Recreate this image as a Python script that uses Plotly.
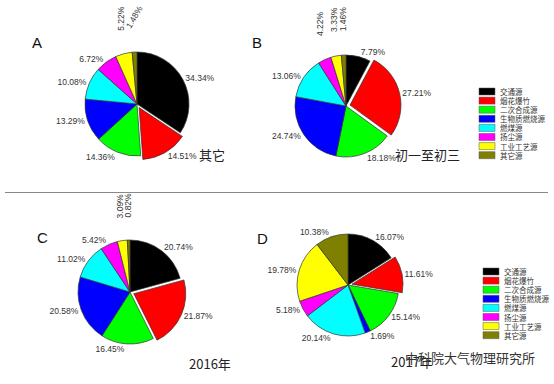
import math
import plotly.graph_objects as go

W, H = 554, 384

sources = ["交通源", "烟花爆竹", "二次合成源", "生物质燃烧源", "燃煤源", "扬尘源", "工业工艺源", "其它源"]
colors = ["#000000", "#FF0000", "#00FF00", "#0000FF", "#00FFFF", "#FF00FF", "#FFFF00", "#808000"]

vals_A = [34.34, 14.51, 14.36, 13.29, 10.08, 6.72, 5.22, 1.48]
vals_B = [7.79, 27.21, 18.18, 24.74, 13.06, 4.22, 3.33, 1.46]
vals_C = [20.74, 21.87, 16.45, 20.58, 11.02, 5.42, 3.09, 0.82]
vals_D = [16.07, 11.61, 15.14, 1.69, 20.14, 5.18, 19.78, 10.38]

panel_letters = ["A", "B", "C", "D"]
panel_titles = ["其它", "初一至初三", "2016年", "2017年"]

# style / layout (pixels)
centers = [(137, 104), (346, 106), (130, 292), (348, 285)]
radii = [52, 51, 52, 51]
pull = 0.08
rotated = [{6: -90, 7: -60}, {5: -90, 6: -90, 7: -90}, {6: -90, 7: -90}, {}]
letter_pos = [(37, 42), (257, 43), (42, 237), (262, 238)]
title_pos = [(212, 155), (427, 154), (210, 363), (412, 361)]
legend_pos = [(479, 88), (483, 268)]


def px(x):
    return x / W


def py(y):
    return 1 - y / H


def ann(x, y, text, size, family, color="#333333", angle=0, xanchor="center"):
    return dict(x=px(x), y=py(y), xref="paper", yref="paper", text=text, showarrow=False,
                xanchor=xanchor, yanchor="middle", textangle=angle,
                font=dict(family=family, size=size, color=color))


fig = go.Figure()
annotations = []
shapes = []
ARIAL = "Arial, Liberation Sans"
CJK = "Noto Sans CJK SC"

for k, vals in enumerate([vals_A, vals_B, vals_C, vals_D]):
    cx, cy = centers[k]
    r = radii[k]
    half = r * (1 + pull)
    texts = []
    total = sum(vals)
    cum = 0
    for i, v in enumerate(vals):
        lab = f"{v:.2f}%"
        if i in rotated[k]:
            texts.append("")
            # slice mid-angle measured from 12 o'clock, squeezed toward the top
            mid = (cum + v / 2) / total * 2 * math.pi - 2 * math.pi
            mid *= 0.7
            R = 87
            ax = cx + R * math.sin(mid)
            ay = cy - R * math.cos(mid)
            annotations.append(ann(ax, ay, lab, 8.5, ARIAL, angle=rotated[k][i]))
        else:
            texts.append(lab)
        cum += v
    fig.add_trace(go.Pie(
        labels=sources, values=vals, text=texts, textinfo="text",
        textposition="outside", sort=False, direction="clockwise", rotation=0,
        pull=[pull if i == 1 else 0 for i in range(len(vals))],
        marker=dict(colors=colors, line=dict(color="#333333", width=0.7)),
        outsidetextfont=dict(family=ARIAL, size=8.5, color="#333333"),
        domain=dict(x=[px(cx - half), px(cx + half)], y=[py(cy + half), py(cy - half)]),
        showlegend=False, hoverinfo="label+percent",
    ))
    lx, ly = letter_pos[k]
    annotations.append(ann(lx, ly, panel_letters[k], 15, ARIAL, "#111111"))
    tx, ty = title_pos[k]
    annotations.append(ann(tx, ty, panel_titles[k], 13, CJK, "#222222"))

# manual legends
for (lx0, ly0) in legend_pos:
    for i, (name, c) in enumerate(zip(sources, colors)):
        y0 = ly0 + i * 9.1
        shapes.append(dict(type="rect", xref="paper", yref="paper",
                           x0=px(lx0), x1=px(lx0 + 16), y0=py(y0 + 7), y1=py(y0),
                           fillcolor=c, line=dict(color="#555555", width=0.5)))
        annotations.append(ann(lx0 + 19, y0 + 3.5, name, 7.5, CJK, xanchor="left"))

# separator line
shapes.append(dict(type="line", xref="paper", yref="paper", x0=px(5), x1=px(548), y0=py(192.5), y1=py(192.5),
                   line=dict(color="#888888", width=1)))

# watermark
annotations.append(ann(470, 357, "中科院大气物理研究所", 13, CJK, "#333333"))

fig.update_layout(width=W, height=H, margin=dict(l=0, r=0, t=0, b=0),
                  paper_bgcolor="white", plot_bgcolor="white",
                  annotations=annotations, shapes=shapes)
fig.write_html("out.html", config={"displayModeBar": False},
               post_script="document.body.style.margin='0';document.body.style.overflow='hidden';")
